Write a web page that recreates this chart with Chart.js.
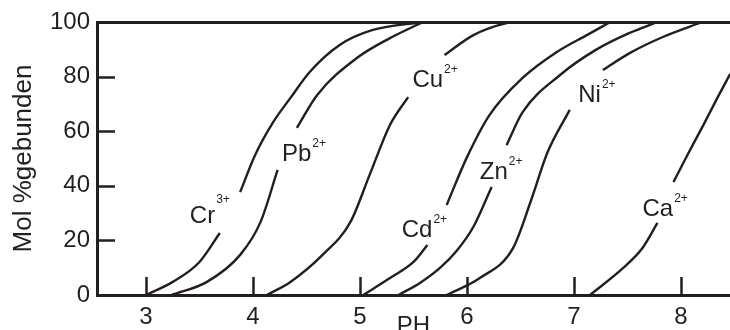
<!DOCTYPE html>
<html>
<head>
<meta charset="utf-8">
<script src="https://cdn.jsdelivr.net/npm/chart.js@4/dist/chart.umd.min.js"></script>
<style>
  html, body { margin: 0; padding: 0; background: #fff; overflow: hidden; width: 730px; height: 330px; }
  #wrap { position: absolute; left: 0; top: 0; width: 730px; height: 345px; }
</style>
</head>
<body>
<div id="wrap"><canvas id="c" width="730" height="345"></canvas></div>
<script>
// Binding curves: pH against percentage of metal bound.
// A null entry leaves a gap in the curve next to its label.
const crPH    = [3.00, 3.25, 3.50, 3.69, null, 3.88, 4.02, 4.19, 4.35, 4.53, 4.81, 5.12, 5.59];
const crBound = [0, 4.8, 12.1, 22.7, null, 37.7, 51.3, 63.4, 72.2, 81.7, 91.6, 97.1, 100];

const pbPH    = [3.24, 3.57, 3.88, 4.07, 4.23, null, 4.41, 4.60, 4.97, 5.28, 5.59];
const pbBound = [0, 4.8, 14.7, 26.7, 45.8, null, 61.2, 73.3, 86.8, 94.1, 100];

const cuPH    = [4.13, 4.35, 4.65, 4.91, 5.09, 5.28, 5.45, null, 5.79, 6.06, 6.37, 6.47];
const cuBound = [0, 4.8, 14.7, 26.7, 44.0, 62.3, 72.5, null, 87.9, 95.2, 99.6, 100];

const cdPH    = [5.03, 5.28, 5.50, 5.63, null, 5.81, 6.00, 6.21, 6.52, 6.84, 7.12, 7.34];
const cdBound = [0, 6.2, 12.1, 18.3, null, 33.0, 50.5, 65.9, 79.5, 89.0, 95.2, 100];

const znPH    = [5.36, 5.56, 5.75, 5.91, 6.06, 6.23, null, 6.37, 6.52, 6.87, 7.20, 7.52, 7.78];
const znBound = [0, 4.4, 10.0, 16.5, 25.0, 39.6, null, 54.9, 67.0, 80.6, 89.7, 96.0, 100];

const niPH    = [5.81, 6.12, 6.43, 6.60, 6.75, 6.96, null, 7.27, 7.52, 7.83, 8.20];
const niBound = [0, 6.2, 17.2, 34.8, 52.0, 67.8, null, 82.4, 88.6, 94.5, 100];

const caPH    = [7.15, 7.46, 7.64, 7.78, null, 7.93, 8.06, 8.21, 8.34, 8.46];
const caBound = [0, 9.9, 17.2, 26.4, null, 41.4, 51.3, 62.3, 72.2, 81.0];

const phTicks    = [3, 4, 5, 6, 7, 8];
const boundTicks = [0, 20, 40, 60, 80, 100];

const series = [
  { ion: 'Cr', charge: '3+', ph: crPH, bound: crBound },
  { ion: 'Pb', charge: '2+', ph: pbPH, bound: pbBound },
  { ion: 'Cu', charge: '2+', ph: cuPH, bound: cuBound },
  { ion: 'Cd', charge: '2+', ph: cdPH, bound: cdBound },
  { ion: 'Zn', charge: '2+', ph: znPH, bound: znBound },
  { ion: 'Ni', charge: '2+', ph: niPH, bound: niBound },
  { ion: 'Ca', charge: '2+', ph: caPH, bound: caBound }
];

// Where each ion symbol sits (left edge / baseline, in pH and % units), and how high its charge is raised
const ionLabels = [
  { ion: 'Cr', charge: '3+', at: [3.41, 26.4], raise: 20 },
  { ion: 'Pb', charge: '2+', at: [4.27, 49.1], raise: 14 },
  { ion: 'Cu', charge: '2+', at: [5.49, 76.2], raise: 14 },
  { ion: 'Cd', charge: '2+', at: [5.39, 21.2], raise: 14 },
  { ion: 'Zn', charge: '2+', at: [6.12, 42.5], raise: 14 },
  { ion: 'Ni', charge: '2+', at: [7.04, 70.7], raise: 14 },
  { ion: 'Ca', charge: '2+', at: [7.64, 28.9], raise: 14 }
];

const INK = '#231f20';
const FAMILY = '"Liberation Sans", Arial, Helvetica, sans-serif';

// Short tick marks pointing into the plot from both axes
const innerTicks = {
  id: 'innerTicks',
  afterDatasetsDraw(chart) {
    const { ctx, chartArea: a, scales: { x, y } } = chart;
    ctx.save();
    ctx.strokeStyle = INK;
    ctx.lineWidth = 2.5;
    ctx.beginPath();
    x.ticks.forEach(t => {
      const px = Math.round(x.getPixelForValue(t.value)) + 0.5;
      ctx.moveTo(px, a.bottom);
      ctx.lineTo(px, a.bottom - 18);
    });
    y.ticks.forEach(t => {
      if (t.value <= 0 || t.value >= 100) return;
      const py = Math.round(y.getPixelForValue(t.value)) + 0.5;
      ctx.moveTo(a.left, py);
      ctx.lineTo(a.left + 18, py);
    });
    ctx.stroke();
    ctx.restore();
  }
};

// Ion symbols with superscript charges
const ionLabelPlugin = {
  id: 'ionLabels',
  afterDatasetsDraw(chart) {
    const { ctx, scales: { x, y } } = chart;
    ctx.save();
    ctx.fillStyle = INK;
    ctx.textAlign = 'left';
    ctx.textBaseline = 'alphabetic';
    ionLabels.forEach(l => {
      const px = x.getPixelForValue(l.at[0]);
      const py = y.getPixelForValue(l.at[1]);
      ctx.font = '24px ' + FAMILY;
      ctx.fillText(l.ion, px, py);
      const w = ctx.measureText(l.ion).width;
      ctx.font = '12px ' + FAMILY;
      ctx.fillText(l.charge, px + w + 1, py - l.raise);
    });
    ctx.restore();
  }
};

new Chart(document.getElementById('c'), {
  type: 'line',
  data: {
    datasets: series.map(s => ({
      label: s.ion + s.charge,
      data: s.ph.map((v, i) => ({ x: v, y: s.bound[i] })),
      borderColor: INK,
      borderWidth: 2.4,
      pointRadius: 0,
      fill: false,
      spanGaps: false,
      cubicInterpolationMode: 'monotone'
    }))
  },
  options: {
    responsive: false,
    animation: false,
    devicePixelRatio: 1,
    layout: { padding: { top: 22, right: 0, bottom: 0, left: 0 } },
    plugins: { legend: { display: false }, tooltip: { enabled: false } },
    scales: {
      x: {
        type: 'linear',
        min: 2.542,
        max: 8.458,
        afterBuildTicks: s => { s.ticks = phTicks.map(v => ({ value: v })); },
        afterFit: s => { s.height = 50; },
        ticks: { padding: 8, color: INK, font: { family: FAMILY, size: 24 }, includeBounds: false },
        grid: { display: false, drawTicks: false },
        border: { display: true, color: INK, width: 3 },
        title: {
          display: true, text: 'PH', color: INK,
          font: { family: FAMILY, size: 24 },
          padding: { top: 0, bottom: 4 }
        }
      },
      y: {
        type: 'linear',
        min: 0,
        max: 100,
        afterBuildTicks: s => { s.ticks = boundTicks.map(v => ({ value: v })); },
        afterFit: s => { s.width = 97; },
        ticks: { padding: 7, color: INK, font: { family: FAMILY, size: 24 } },
        grid: {
          drawTicks: false,
          color: c => (c.tick && c.tick.value === 100 ? INK : 'rgba(0,0,0,0)'),
          lineWidth: 3
        },
        border: { display: true, color: INK, width: 3 },
        title: {
          display: true, text: 'Mol %gebunden', color: INK,
          font: { family: FAMILY, size: 26 },
          padding: { top: 8, bottom: 0 }
        }
      }
    }
  },
  plugins: [innerTicks, ionLabelPlugin]
});
</script>
</body>
</html>
